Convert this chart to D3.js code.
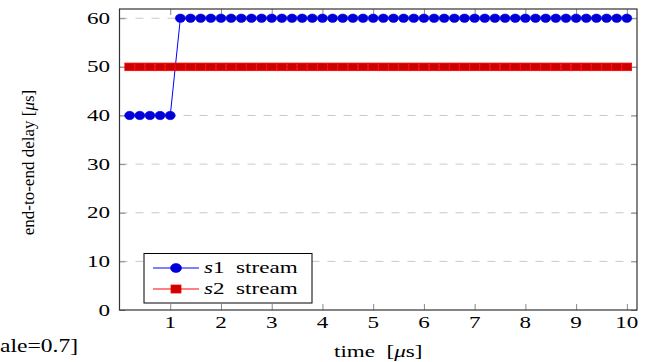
<!DOCTYPE html>
<html>
<head>
<meta charset="utf-8">
<script src="https://cdn.jsdelivr.net/npm/d3@7"></script>
<style>
	body { margin: 0; background: #fff; }
	text { font-family: "Liberation Serif", "Times New Roman", serif; fill: #000; }
</style>
</head>
<body>
<div id="chart_delay"></div>
<script>
////////////////////////////////////////////////////////////////////////////////////////
// data
////////////////////////////////////////////////////////////////////////////////////////
var timeValues = [0.2, 0.4, 0.6, 0.8, 1.0, 1.2, 1.4, 1.6, 1.8, 2.0,
	2.2, 2.4, 2.6, 2.8, 3.0, 3.2, 3.4, 3.6, 3.8, 4.0,
	4.2, 4.4, 4.6, 4.8, 5.0, 5.2, 5.4, 5.6, 5.8, 6.0,
	6.2, 6.4, 6.6, 6.8, 7.0, 7.2, 7.4, 7.6, 7.8, 8.0,
	8.2, 8.4, 8.6, 8.8, 9.0, 9.2, 9.4, 9.6, 9.8, 10.0];

var s1Delay = [40, 40, 40, 40, 40, 60, 60, 60, 60, 60,
	60, 60, 60, 60, 60, 60, 60, 60, 60, 60,
	60, 60, 60, 60, 60, 60, 60, 60, 60, 60,
	60, 60, 60, 60, 60, 60, 60, 60, 60, 60,
	60, 60, 60, 60, 60, 60, 60, 60, 60, 60];

var s2Delay = [50, 50, 50, 50, 50, 50, 50, 50, 50, 50,
	50, 50, 50, 50, 50, 50, 50, 50, 50, 50,
	50, 50, 50, 50, 50, 50, 50, 50, 50, 50,
	50, 50, 50, 50, 50, 50, 50, 50, 50, 50,
	50, 50, 50, 50, 50, 50, 50, 50, 50, 50];

var xTicks = [1, 2, 3, 4, 5, 6, 7, 8, 9, 10];
var yTicks = [0, 10, 20, 30, 40, 50, 60];
var legendNames = ["1", "2"];

////////////////////////////////////////////////////////////////////////////////////////
// draw
////////////////////////////////////////////////////////////////////////////////////////
function drawDelayChart() {
	var W = 652, H = 362;
	var pLeft = 119.5, pRight = 637, pTop = 9, pBottom = 310;
	var sx = 1.4; // horizontal text stretch seen in the reference

	var svg = d3.select("#chart_delay")
		.append("svg")
		.attr("width", W)
		.attr("height", H);

	var x = d3.scaleLinear().domain([0, 10.2]).range([pLeft, pRight]);
	var y = d3.scaleLinear().domain([0, 61.9]).range([pBottom, pTop]);

	// grid
	svg.append("g")
		.selectAll("line")
		.data(yTicks.filter(function (d) { return d > 0; }))
		.join("line")
		.attr("x1", pLeft).attr("x2", pRight)
		.attr("y1", function (d) { return y(d); })
		.attr("y2", function (d) { return y(d); })
		.attr("stroke", "#c8c8c8")
		.attr("stroke-width", 1)
		.attr("stroke-dasharray", "8,8");

	// ticks (inward, on all four sides)
	var tickLen = 6;
	var xAxisB = d3.axisBottom(x).tickValues(xTicks).tickSize(-tickLen).tickFormat("");
	var xAxisT = d3.axisTop(x).tickValues(xTicks).tickSize(-tickLen).tickFormat("");
	var yAxisL = d3.axisLeft(y).tickValues(yTicks).tickSize(-tickLen).tickFormat("");
	var yAxisR = d3.axisRight(y).tickValues(yTicks).tickSize(-tickLen).tickFormat("");

	function styleAxis(g) {
		g.select(".domain").remove();
		g.selectAll(".tick line").attr("stroke", "#888").attr("stroke-width", 1);
	}
	svg.append("g").attr("transform", "translate(0," + pBottom + ")").call(xAxisB).call(styleAxis);
	svg.append("g").attr("transform", "translate(0," + pTop + ")").call(xAxisT).call(styleAxis);
	svg.append("g").attr("transform", "translate(" + pLeft + ",0)").call(yAxisL).call(styleAxis);
	svg.append("g").attr("transform", "translate(" + pRight + ",0)").call(yAxisR).call(styleAxis);

	// frame
	svg.append("rect")
		.attr("x", pLeft).attr("y", pTop)
		.attr("width", pRight - pLeft).attr("height", pBottom - pTop)
		.attr("fill", "none")
		.attr("stroke", "#333")
		.attr("stroke-width", 1.2);

	// tick labels
	svg.append("g")
		.selectAll("text")
		.data(yTicks)
		.join("text")
		.attr("transform", function (d) { return "translate(110," + (y(d) + 5.5) + ") scale(" + sx + ",1)"; })
		.attr("text-anchor", "end")
		.style("font-size", "16.5px")
		.text(function (d) { return d; });

	svg.append("g")
		.selectAll("text")
		.data(xTicks)
		.join("text")
		.attr("transform", function (d) { return "translate(" + x(d) + ",328) scale(" + sx + ",1)"; })
		.attr("text-anchor", "middle")
		.style("font-size", "16.5px")
		.text(function (d) { return d; });

	// axis labels
	var xLabel = svg.append("text")
		.attr("transform", "translate(" + ((pLeft + pRight) / 2) + ",357) scale(" + sx + ",1)")
		.attr("text-anchor", "middle")
		.style("font-size", "16.5px");
	xLabel.append("tspan").text("time\u00a0\u00a0[");
	xLabel.append("tspan").style("font-style", "italic").text("\u03bc");
	xLabel.append("tspan").text("s]");

	var yLabel = svg.append("text")
		.attr("transform", "translate(34," + ((pTop + pBottom) / 2 + 3) + ") rotate(-90)")
		.attr("text-anchor", "middle")
		.style("font-size", "17px");
	yLabel.append("tspan").text("end-to-end delay [");
	yLabel.append("tspan").style("font-style", "italic").text("\u03bc");
	yLabel.append("tspan").text("s]");

	// series
	var s1 = timeValues.map(function (t, i) { return {t: t, v: s1Delay[i]}; });
	var s2 = timeValues.map(function (t, i) { return {t: t, v: s2Delay[i]}; });

	var line = d3.line()
		.x(function (d) { return x(d.t); })
		.y(function (d) { return y(d.v); });

	svg.append("path")
		.datum(s1)
		.attr("d", line)
		.attr("fill", "none")
		.attr("stroke", "#0000ff")
		.attr("stroke-width", 1);

	svg.append("g")
		.selectAll("ellipse")
		.data(s1)
		.join("ellipse")
		.attr("cx", function (d) { return x(d.t); })
		.attr("cy", function (d) { return y(d.v); })
		.attr("rx", 5)
		.attr("ry", 4.2)
		.attr("fill", "#0000d4")
		.attr("stroke", "#0000ff")
		.attr("stroke-width", 0.6);

	svg.append("path")
		.datum(s2)
		.attr("d", line)
		.attr("fill", "none")
		.attr("stroke", "#ff0000")
		.attr("stroke-width", 1);

	svg.append("g")
		.selectAll("rect")
		.data(s2)
		.join("rect")
		.attr("x", function (d) { return x(d.t) - 4.8; })
		.attr("y", function (d) { return y(d.v) - 3.8; })
		.attr("width", 9.6)
		.attr("height", 7.6)
		.attr("fill", "#cc0000")
		.attr("stroke", "#ff0000")
		.attr("stroke-width", 0.8);

	// legend
	var legend = svg.append("g");
	legend.append("rect")
		.attr("x", 144).attr("y", 253.5)
		.attr("width", 168).attr("height", 49.5)
		.attr("fill", "#fff")
		.attr("stroke", "#000")
		.attr("stroke-width", 1);

	var rowY = [268, 289];
	var rowColor = ["#0000ff", "#ff0000"];
	legendNames.forEach(function (name, i) {
		legend.append("line")
			.attr("x1", 153).attr("x2", 199)
			.attr("y1", rowY[i]).attr("y2", rowY[i])
			.attr("stroke", rowColor[i])
			.attr("stroke-width", 1);
		if (i === 0) {
			legend.append("ellipse")
				.attr("cx", 176).attr("cy", rowY[i])
				.attr("rx", 5.5).attr("ry", 4.5)
				.attr("fill", "#0000d4").attr("stroke", "#0000ff").attr("stroke-width", 0.6);
		} else {
			legend.append("rect")
				.attr("x", 171).attr("y", rowY[i] - 4)
				.attr("width", 10).attr("height", 8)
				.attr("fill", "#cc0000").attr("stroke", "#ff0000").attr("stroke-width", 0.8);
		}
		var t = legend.append("text")
			.attr("transform", "translate(204," + (rowY[i] + 5) + ") scale(" + sx + ",1)")
			.style("font-size", "16.5px");
		t.append("tspan").style("font-style", "italic").text("s");
		t.append("tspan").text(name + "\u00a0\u00a0stream");
	});

	// clipped caption at the bottom left (only its tail is visible)
	svg.append("text")
		.attr("transform", "translate(0,352) scale(1.24,1)")
		.attr("text-anchor", "start")
		.style("font-size", "19px")
		.text("ale=0.7]");
}

drawDelayChart();
</script>
</body>
</html>
